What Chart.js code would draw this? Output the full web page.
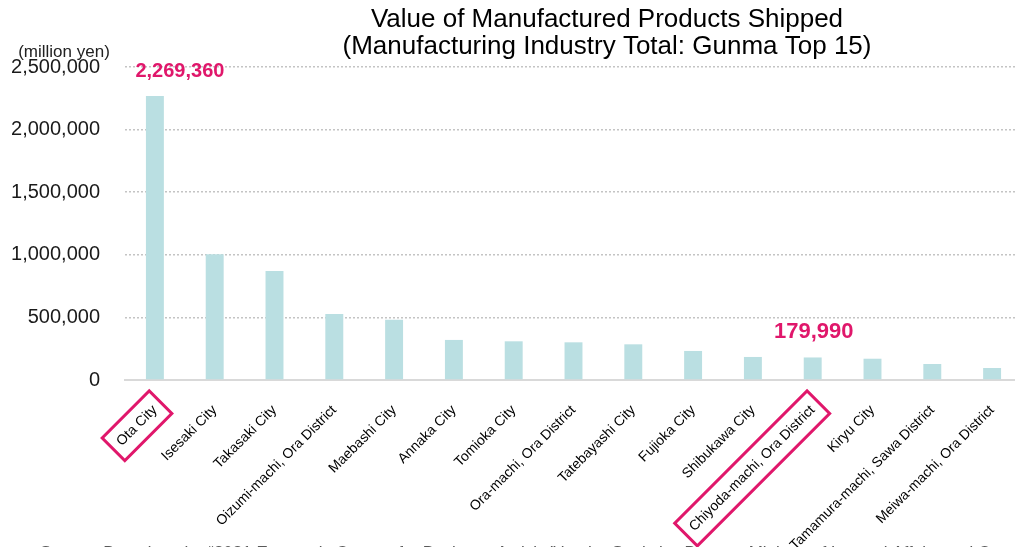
<!DOCTYPE html>
<html lang="en">
<head>
<meta charset="UTF-8">
<title>Value of Manufactured Products Shipped</title>
<script src="https://cdn.jsdelivr.net/npm/chart.js"></script>
<style>
  html, body { margin: 0; padding: 0; background: #fff; overflow: hidden; }
  #wrap { width: 1030px; height: 547px; }
</style>
</head>
<body>
<div id="wrap"><canvas id="shipChart" width="1030" height="547"></canvas></div>
<script>
  // Gunma top 15, manufacturing industry total (million yen)
  const cities = [
    'Ota City', 'Isesaki City', 'Takasaki City', 'Oizumi-machi, Ora District',
    'Maebashi City', 'Annaka City', 'Tomioka City', 'Ora-machi, Ora District',
    'Tatebayashi City', 'Fujioka City', 'Shibukawa City', 'Chiyoda-machi, Ora District',
    'Kiryu City', 'Tamamura-machi, Sawa District', 'Meiwa-machi, Ora District'
  ];
  const shipped = [
    2269360, 1005000, 871000, 527000,
    482000, 320000, 309000, 301000,
    285000, 232000, 184000, 179990,
    170000, 128000, 96000
  ];
  const yTicks = [0, 500000, 1000000, 1500000, 2000000, 2500000];
  const highlighted = [0, 11];

  const titleLines = [
    'Value of Manufactured Products Shipped',
    '(Manufacturing Industry Total: Gunma Top 15)'
  ];
  const unitLabel = '(million yen)';
  const sourceNote = 'Source: Based on the \u201c2021 Economic Census for Business Activity\u201d by the Statistics Bureau, Ministry of Internal Affairs and Communications';

  const FONT = '"Liberation Sans", Arial, sans-serif';
  const PINK = '#e0176b';
  const fmt = v => v.toLocaleString('en-US');

  // title, unit, value callouts, label boxes, source line
  const extras = {
    id: 'extras',
    afterDraw(chart) {
      const ctx = chart.ctx;
      ctx.save();
      ctx.fillStyle = '#000';
      ctx.textAlign = 'center';
      ctx.textBaseline = 'alphabetic';
      ctx.font = '26px ' + FONT;
      titleLines.forEach((t, i) => ctx.fillText(t, 607, 27 + i * 27));

      ctx.textBaseline = 'middle';
      ctx.font = '17px ' + FONT;
      ctx.fillStyle = '#222';
      ctx.fillText(unitLabel, 64, 52);

      const meta = chart.getDatasetMeta(0);
      const calloutStyle = [
        { size: 20, dx: 25, dy: 24 },
        { size: 22, dx: 1, dy: 26 }
      ];
      ctx.fillStyle = PINK;
      highlighted.forEach((idx, k) => {
        const bar = meta.data[idx];
        const s = calloutStyle[k];
        ctx.font = 'bold ' + s.size + 'px ' + FONT;
        ctx.fillText(fmt(shipped[idx]), bar.x + s.dx, bar.y - s.dy);
      });

      const items = chart.scales.x.getLabelItems();
      ctx.strokeStyle = PINK;
      ctx.lineWidth = 3;
      highlighted.forEach(idx => {
        const it = items[idx];
        const [tx, ty] = it.options.translation;
        ctx.save();
        ctx.translate(tx, ty);
        ctx.rotate(it.options.rotation);
        ctx.font = it.font.string;
        const w = ctx.measureText(it.label).width;
        const off = it.textOffset !== undefined ? it.textOffset : it.font.lineHeight / 2;
        ctx.strokeRect(-w - 8, off - 16, w + 16, 32);
        ctx.restore();
      });

      ctx.textAlign = 'left';
      ctx.textBaseline = 'alphabetic';
      ctx.fillStyle = '#595959';
      ctx.font = '17px ' + FONT;
      ctx.fillText(sourceNote, 40, 558);
      ctx.restore();
    }
  };

  new Chart(document.getElementById('shipChart'), {
    type: 'bar',
    data: {
      labels: cities,
      datasets: [{
        data: shipped,
        backgroundColor: '#badfe2',
        barPercentage: 0.6,
        categoryPercentage: 0.5
      }]
    },
    options: {
      responsive: false,
      animation: false,
      devicePixelRatio: 1,
      layout: { padding: { top: 67, right: 8, left: 0, bottom: 0 } },
      plugins: {
        legend: { display: false },
        tooltip: { enabled: false }
      },
      scales: {
        x: {
          afterFit: s => { s.height = 167; },
          grid: { display: false },
          border: { display: true, color: '#d9d9d9', width: 2 },
          ticks: {
            autoSkip: false,
            minRotation: 45,
            maxRotation: 45,
            padding: 14,
            color: '#000',
            font: { family: FONT, size: 14 }
          }
        },
        y: {
          min: 0,
          max: 2500000,
          afterFit: s => { s.width = 125; },
          afterBuildTicks: s => { s.ticks = yTicks.map(v => ({ value: v })); },
          border: { display: false, dash: [2, 2] },
          grid: {
            color: '#c4c4c4',
            lineWidth: 1.5,
            drawTicks: false
          },
          ticks: {
            padding: 25,
            color: '#1a1a1a',
            font: { family: FONT, size: 20 },
            callback: v => fmt(v)
          }
        }
      }
    },
    plugins: [extras]
  });
</script>
</body>
</html>
